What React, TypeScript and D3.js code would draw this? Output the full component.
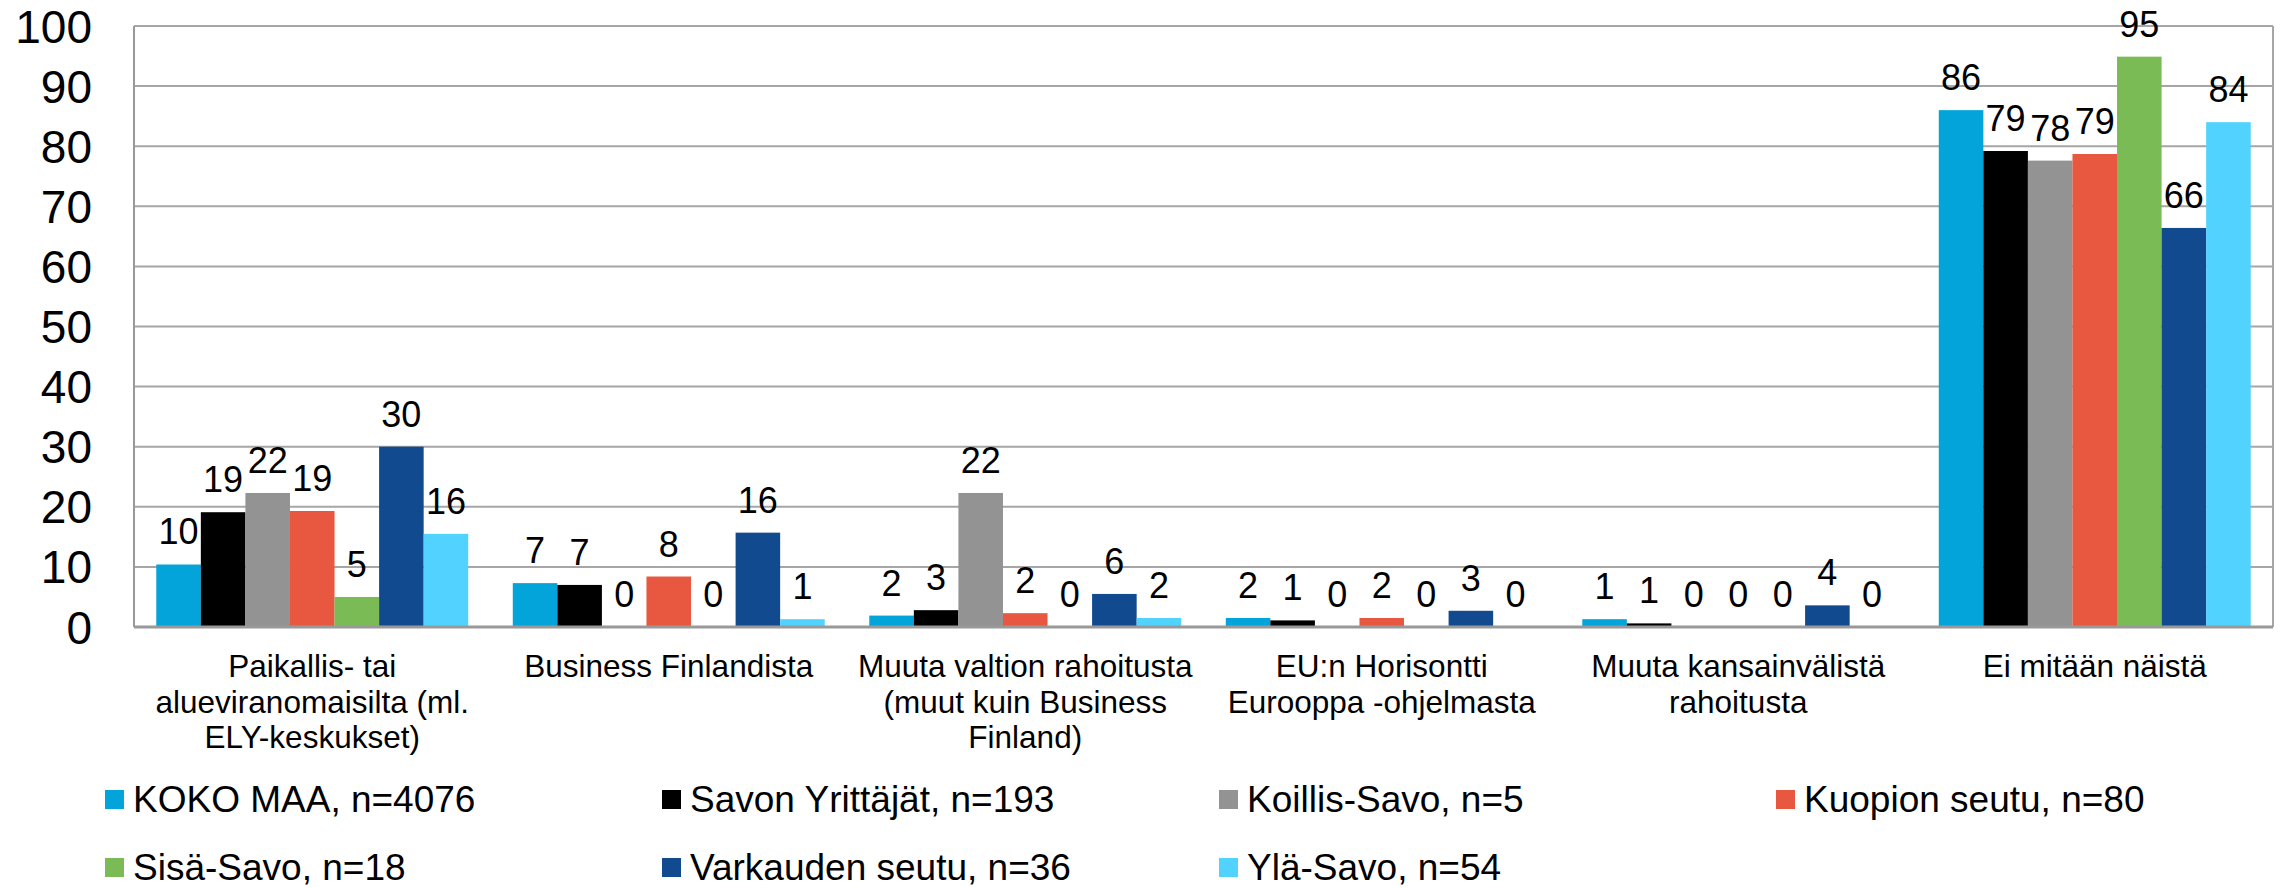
import React, { useRef, useEffect } from "react";
import * as d3 from "d3";

const categories = [
  "Paikallis- tai alueviranomaisilta (ml. ELY-keskukset)",
  "Business Finlandista",
  "Muuta valtion rahoitusta (muut kuin Business Finland)",
  "EU:n Horisontti Eurooppa -ohjelmasta",
  "Muuta kansainvälistä rahoitusta",
  "Ei mitään näistä",
];

const categoryLines = [
  ["Paikallis- tai", "alueviranomaisilta (ml.", "ELY-keskukset)"],
  ["Business Finlandista"],
  ["Muuta valtion rahoitusta", "(muut kuin Business", "Finland)"],
  ["EU:n Horisontti", "Eurooppa -ohjelmasta"],
  ["Muuta kansainvälistä", "rahoitusta"],
  ["Ei mitään näistä"],
];

const seriesNames = [
  "KOKO MAA, n=4076",
  "Savon Yrittäjät, n=193",
  "Koillis-Savo, n=5",
  "Kuopion seutu, n=80",
  "Sisä-Savo, n=18",
  "Varkauden seutu, n=36",
  "Ylä-Savo, n=54",
];

const kokoMaa = [10.4, 7.3, 1.9, 1.5, 1.3, 86.0];
const savonYrittajat = [19.1, 7.0, 2.8, 1.1, 0.6, 79.2];
const koillisSavo = [22.3, 0, 22.3, 0, 0, 77.6];
const kuopionSeutu = [19.3, 8.4, 2.3, 1.5, 0, 78.7];
const sisaSavo = [5.0, 0, 0, 0, 0, 94.9];
const varkaudenSeutu = [30.0, 15.7, 5.5, 2.7, 3.6, 66.4];
const ylaSavo = [15.5, 1.3, 1.5, 0, 0, 84.0];

const yTicks = [0, 10, 20, 30, 40, 50, 60, 70, 80, 90, 100];

const colors = ["#02a4da", "#000000", "#939393", "#e8573f", "#7bbb55", "#124a8f", "#52d3ff"];

const seriesValues = [kokoMaa, savonYrittajat, koillisSavo, kuopionSeutu, sisaSavo, varkaudenSeutu, ylaSavo];

const W = 2283;
const H = 887;
const font = "'Liberation Sans', Arial, sans-serif";

const App = () => {
  const ref = useRef<SVGSVGElement>(null);

  useEffect(() => {
    const svg = d3.select(ref.current);
    svg.selectAll("*").remove();

    const left = 134, right = 2273, top = 26, bottom = 627;

    const x = d3.scaleBand().domain(categories).range([left, right]).paddingInner(0).paddingOuter(0);
    const xs = d3.scaleBand().domain(seriesNames).range([0, x.bandwidth()]).paddingInner(0).paddingOuter(0.5);
    const y = d3.scaleLinear().domain([0, 100]).range([bottom, top]);

    // gridlines
    svg.append("g")
      .selectAll("line")
      .data(yTicks.filter(t => t > 0))
      .join("line")
      .attr("x1", left).attr("x2", right)
      .attr("y1", d => y(d)).attr("y2", d => y(d))
      .attr("stroke", "#a6a6a6").attr("stroke-width", 2);

    // borders
    svg.append("line").attr("x1", left).attr("x2", left).attr("y1", top).attr("y2", bottom)
      .attr("stroke", "#999").attr("stroke-width", 2);
    svg.append("line").attr("x1", right).attr("x2", right).attr("y1", top).attr("y2", bottom)
      .attr("stroke", "#a6a6a6").attr("stroke-width", 2);

    // y tick labels
    svg.append("g")
      .selectAll("text")
      .data(yTicks)
      .join("text")
      .attr("x", 92)
      .attr("y", d => y(d))
      .attr("dy", "0.36em")
      .attr("text-anchor", "end")
      .attr("font-family", font)
      .attr("font-size", 46)
      .text(d => d);

    // bars
    const groups = svg.append("g")
      .selectAll("g")
      .data(seriesNames)
      .join("g")
      .attr("fill", (d, i) => colors[i]);

    groups.selectAll("rect")
      .data((s, i) => seriesValues[i].map((v, j) => ({ s, v, c: categories[j] })))
      .join("rect")
      .attr("x", d => (x(d.c) as number) + (xs(d.s) as number))
      .attr("y", d => y(d.v))
      .attr("width", xs.bandwidth())
      .attr("height", d => y(0) - y(d.v));

    // baseline
    svg.append("line").attr("x1", left).attr("x2", right).attr("y1", bottom).attr("y2", bottom)
      .attr("stroke", "#999").attr("stroke-width", 3);

    // data labels
    const labels = svg.append("g");
    seriesNames.forEach((s, i) => {
      labels.append("g")
        .selectAll("text")
        .data(seriesValues[i].map((v, j) => ({ v, c: categories[j] })))
        .join("text")
        .attr("x", d => (x(d.c) as number) + (xs(s) as number) + xs.bandwidth() / 2)
        .attr("y", d => y(d.v) - 20)
        .attr("text-anchor", "middle")
        .attr("font-family", font)
        .attr("font-size", 36)
        .text(d => Math.round(d.v));
    });

    // category labels
    const cat = svg.append("g")
      .selectAll("text")
      .data(categories)
      .join("text")
      .attr("x", d => (x(d) as number) + x.bandwidth() / 2)
      .attr("y", 677)
      .attr("text-anchor", "middle")
      .attr("font-family", font)
      .attr("font-size", 31.5);
    cat.selectAll("tspan")
      .data((d, i) => categoryLines[i])
      .join("tspan")
      .attr("x", function () { return (this.parentNode as SVGTextElement).getAttribute("x"); })
      .attr("dy", (d, i) => (i === 0 ? 0 : 35.5))
      .text(d => d);

    // legend
    const legend = svg.append("g")
      .selectAll("g")
      .data(seriesNames)
      .join("g")
      .attr("transform", (d, i) => `translate(${105 + (i % 4) * 557},${i < 4 ? 812 : 880})`);
    legend.append("rect")
      .attr("x", 0).attr("y", -22).attr("width", 19).attr("height", 19)
      .attr("fill", (d, i) => colors[i]);
    legend.append("text")
      .attr("x", 28).attr("y", 0)
      .attr("font-family", font)
      .attr("font-size", 37)
      .text(d => d);
  }, []);

  return (
    <div>
      <style>{`body{margin:0}`}</style>
      <svg ref={ref} width={W} height={H} style={{ display: "block", background: "#fff" }} />
    </div>
  );
};

export default App;
